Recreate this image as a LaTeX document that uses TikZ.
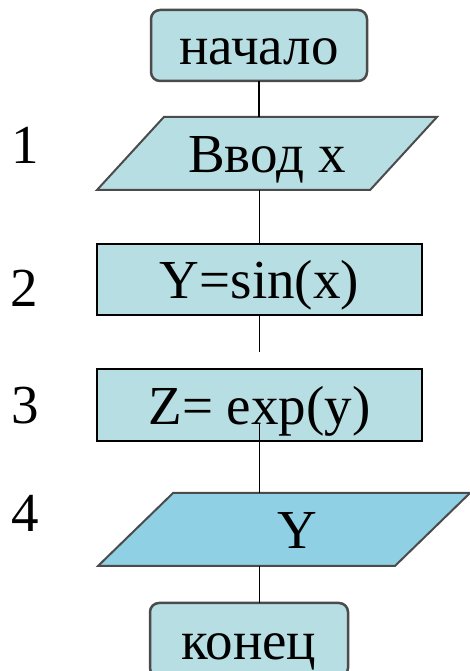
\documentclass[tikz,border=0pt]{standalone}
\usepackage{fontspec}
\setmainfont{Liberation Serif}
\usepackage{tkz-euclide}
\usetikzlibrary{shapes.geometric}
\definecolor{BoxClr}{RGB}{183,222,226}
\definecolor{OutClr}{RGB}{143,208,228}
\definecolor{EdgeClr}{RGB}{75,75,75}

\tikzset{
  blk/.style={draw=black,line width=2pt,fill=BoxClr,inner sep=0pt,outer sep=0pt,
    minimum width=325pt,minimum height=71pt,text height=39pt,text depth=0pt,
    font=\fontsize{55}{62}\selectfont},
  term/.style={blk,draw=EdgeClr,line width=2.5pt,rounded corners=9pt},
  io/.style={blk,draw=EdgeClr,trapezium,trapezium stretches body,
    minimum height=0pt,inner ysep=17pt},
  num/.style={inner sep=0pt,font=\fontsize{55}{62}\selectfont},
  wire/.style={line width=1.6pt,black}
}

\begin{document}
\begin{tikzpicture}[x=1pt,y=1pt]
\useasboundingbox (0,0) rectangle (470,671);

\tkzDefPoints{259/625.5/pN,267/517.5/pIn,259.5/391.5/pY,259.5/266/pZ,284/141.5/pOut,249/31/pK}

\node[term,minimum width=216pt] (N) at (pN) {начало};
\node[io,trapezium left angle=47.5,trapezium right angle=132.5,
  minimum width=340pt] (In) at (pIn) {Ввод x};
\node[blk] (Y) at (pY) {Y=sin(x)};
\node[blk,minimum height=72pt] (Z) at (pZ) {Z= exp(y)};
\node[io,fill=OutClr,trapezium left angle=44.2,trapezium right angle=135.8,
  minimum width=372pt] (Out) at (pOut) {\hspace*{27pt}Y};
\node[term,minimum width=198pt,minimum height=74pt] (K) at (pK) {конец};

% step numbers
\node[num] (n1) at (25,526) {1};
\node[num] (n2) at (24,383) {2};
\node[num] (n3) at (25,265) {3};
\node[num] (n4) at (25,158) {4};

\coordinate (gY) at (259.5,319);
\coordinate (gZ) at (259.5,248);

\draw[wire] (N.south) -- (N.south |- In.north);
\draw[wire] (In.south -| Y.north) -- (Y.north);
\draw[wire] (Y.south) -- (gY);
\draw[wire] (gZ) -- (gZ |- Out.north);
\draw[wire] (Out.south -| gZ) -- (K.north -| gZ);

\end{tikzpicture}
\end{document}
